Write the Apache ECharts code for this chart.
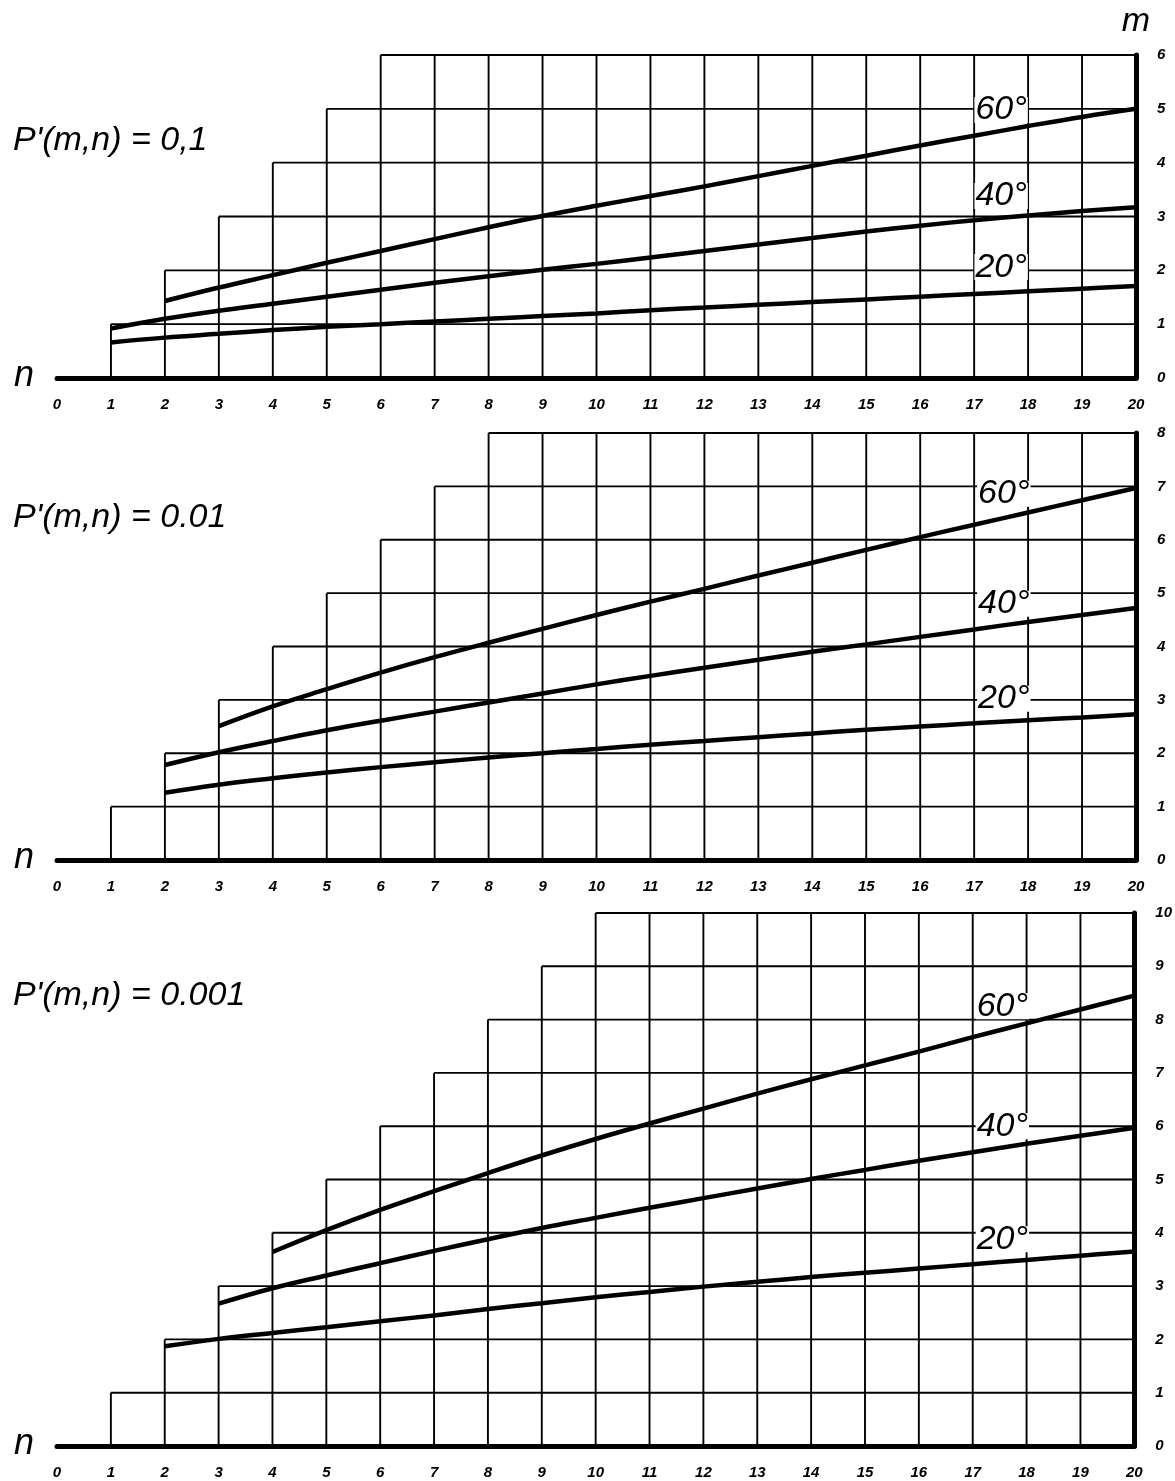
<!DOCTYPE html>
<html>
<head>
<meta charset="utf-8">
<script src="https://cdn.jsdelivr.net/npm/echarts@6/dist/echarts.min.js"></script>
<style>
html,body{margin:0;padding:0;background:#fff;}
#chart{width:1175px;height:1481px;}
</style>
</head>
<body>
<div id="chart"></div>
<script>
// ---------------- data ----------------
const panelTitles = ["P'(m,n) = 0,1", "P'(m,n) = 0.01", "P'(m,n) = 0.001"];
const panelMaxM = [6, 8, 10];
const nMax = 20;
const angleNames = ['20°', '40°', '60°'];

// panel 1 : P'(m,n) = 0,1
const p1_20_n = [1,2,3,4,5,6,7,8,9,10,11,12,13,14,15,16,17,18,19,20];
const p1_20_m = [0.66,0.75,0.82,0.89,0.95,1.00,1.05,1.10,1.15,1.20,1.26,1.31,1.36,1.41,1.46,1.51,1.56,1.61,1.66,1.71];
const p1_40_n = [1,2,3,4,5,6,7,8,9,10,11,12,13,14,15,16,17,18,19,20];
const p1_40_m = [0.92,1.10,1.25,1.38,1.51,1.64,1.77,1.89,2.01,2.12,2.24,2.36,2.48,2.60,2.72,2.83,2.93,3.02,3.10,3.17];
const p1_60_n = [2,3,4,5,6,7,8,9,10,11,12,13,14,15,16,17,18,19,20];
const p1_60_m = [1.43,1.68,1.91,2.14,2.36,2.58,2.80,3.01,3.20,3.38,3.56,3.75,3.94,4.13,4.32,4.50,4.68,4.85,5.00];

// panel 2 : P'(m,n) = 0.01
const p2_20_n = [2,3,4,5,6,7,8,9,10,11,12,13,14,15,16,17,18,19,20];
const p2_20_m = [1.26,1.41,1.53,1.64,1.74,1.83,1.92,2.00,2.08,2.16,2.23,2.30,2.37,2.44,2.50,2.56,2.62,2.67,2.73];
const p2_40_n = [2,3,4,5,6,7,8,9,10,11,12,13,14,15,16,17,18,19,20];
const p2_40_m = [1.78,2.02,2.23,2.43,2.61,2.78,2.95,3.12,3.29,3.45,3.60,3.75,3.90,4.04,4.18,4.32,4.46,4.59,4.72];
const p2_60_n = [3,4,5,6,7,8,9,10,11,12,13,14,15,16,17,18,19,20];
const p2_60_m = [2.51,2.88,3.20,3.51,3.80,4.07,4.33,4.59,4.84,5.08,5.33,5.57,5.81,6.05,6.28,6.51,6.74,6.97];

// panel 3 : P'(m,n) = 0.001
const p3_20_n = [2,3,4,5,6,7,8,9,10,11,12,13,14,15,16,17,18,19,20];
const p3_20_m = [1.87,2.01,2.12,2.23,2.34,2.45,2.57,2.68,2.79,2.89,2.99,3.08,3.17,3.25,3.33,3.41,3.49,3.57,3.65];
const p3_40_n = [3,4,5,6,7,8,9,10,11,12,13,14,15,16,17,18,19,20];
const p3_40_m = [2.67,2.96,3.20,3.43,3.66,3.88,4.09,4.28,4.47,4.65,4.83,5.01,5.18,5.35,5.51,5.67,5.82,5.97];
const p3_60_n = [4,5,6,7,8,9,10,11,12,13,14,15,16,17,18,19,20];
const p3_60_m = [3.64,4.05,4.43,4.78,5.12,5.45,5.76,6.05,6.33,6.61,6.88,7.14,7.40,7.67,7.93,8.19,8.45];

const panelCurves = [
  [[p1_20_n,p1_20_m],[p1_40_n,p1_40_m],[p1_60_n,p1_60_m]],
  [[p2_20_n,p2_20_m],[p2_40_n,p2_40_m],[p2_60_n,p2_60_m]],
  [[p3_20_n,p3_20_m],[p3_40_n,p3_40_m],[p3_60_n,p3_60_m]]
];

// ---------------- layout ----------------
const gridBoxes = [
  {top: 55,  height: 323},
  {top: 433, height: 427},
  {top: 913, height: 533}
];
const angleLabelAt = [
  [[17.5,2.06],[17.5,3.38],[17.5,4.98]],
  [[17.55,3.02],[17.55,4.80],[17.55,6.86]],
  [[17.55,3.88],[17.55,6.00],[17.55,8.25]]
];
const titleY = [141, 518, 996];
const FONT = '"Liberation Sans", Arial, sans-serif';

const zip = (a, b) => a.map((v, i) => [v, b[i]]);

function staircase(M) {
  const segs = [];
  for (let k = 1; k < nMax; k++) segs.push([k, 0, k, Math.min(k, M)]);
  for (let j = 1; j <= M; j++) segs.push([j, j, nMax, j]);
  return segs;
}

const tickLabel = {color: '#000', fontSize: 15, fontStyle: 'italic', fontWeight: 'bold', fontFamily: FONT};
const grids = [], xAxes = [], yAxes = [], series = [];
panelMaxM.forEach((M, p) => {
  grids.push({left: 57, right: 39, top: gridBoxes[p].top, height: gridBoxes[p].height, containLabel: false});
  xAxes.push({
    type: 'value', gridIndex: p, min: 0, max: nMax, interval: 1,
    axisLine: {show: true, onZero: false, lineStyle: {color: '#000', width: 5}},
    axisTick: {show: false}, splitLine: {show: false},
    axisLabel: Object.assign({margin: 19}, tickLabel)
  });
  yAxes.push({
    type: 'value', gridIndex: p, position: 'right', min: 0, max: M, interval: 1,
    axisLine: {show: true, onZero: false, lineStyle: {color: '#000', width: 5}},
    axisTick: {show: false}, splitLine: {show: false},
    axisLabel: Object.assign({margin: 21}, tickLabel)
  });
  series.push({
    type: 'custom', xAxisIndex: p, yAxisIndex: p, z: 2, silent: true,
    encode: {x: [0, 2], y: [1, 3]},
    data: staircase(M),
    renderItem: function (params, api) {
      const a = api.coord([api.value(0), api.value(1)]);
      const b = api.coord([api.value(2), api.value(3)]);
      return {type: 'line', shape: {x1: a[0], y1: a[1], x2: b[0], y2: b[1]},
              style: {stroke: '#000', lineWidth: 1.9}};
    }
  });
  panelCurves[p].forEach((c, ci) => {
    series.push({
      type: 'line', name: angleNames[ci], xAxisIndex: p, yAxisIndex: p, z: 4,
      data: zip(c[0], c[1]), smooth: 0.4, symbol: 'none', silent: true,
      lineStyle: {color: '#000', width: 4.5}
    });
  });
});

const chart = echarts.init(document.getElementById('chart'), null, {renderer: 'canvas'});
chart.setOption({
  animation: false,
  backgroundColor: '#fff',
  grid: grids, xAxis: xAxes, yAxis: yAxes, series: series
});

const els = [];
panelMaxM.forEach((M, p) => {
  els.push({type: 'text', x: 13, y: titleY[p], z: 20,
    style: {text: panelTitles[p], font: 'italic 34px ' + FONT, fill: '#000', textAlign: 'left', textVerticalAlign: 'middle'}});
  const base = chart.convertToPixel({gridIndex: p}, [0, 0]);
  els.push({type: 'text', x: 24, y: base[1] - 2, z: 20,
    style: {text: 'n', font: 'italic 36px ' + FONT, fill: '#000', textAlign: 'center', textVerticalAlign: 'middle'}});
  angleLabelAt[p].forEach((pos, i) => {
    const px = chart.convertToPixel({gridIndex: p}, pos);
    els.push({type: 'text', x: px[0], y: px[1], z: 20,
      style: {text: angleNames[i], font: 'italic 34px ' + FONT, fill: '#000',
        textAlign: 'center', textVerticalAlign: 'middle', backgroundColor: '#fff', padding: [0, 1], lineHeight: 26}});
  });
});
const topRight = chart.convertToPixel({gridIndex: 0}, [nMax, panelMaxM[0]]);
els.push({type: 'text', x: topRight[0], y: 22, z: 20,
  style: {text: 'm', font: 'italic 34px ' + FONT, fill: '#000', textAlign: 'center', textVerticalAlign: 'middle'}});
chart.setOption({graphic: {elements: els}});
</script>
</body>
</html>
